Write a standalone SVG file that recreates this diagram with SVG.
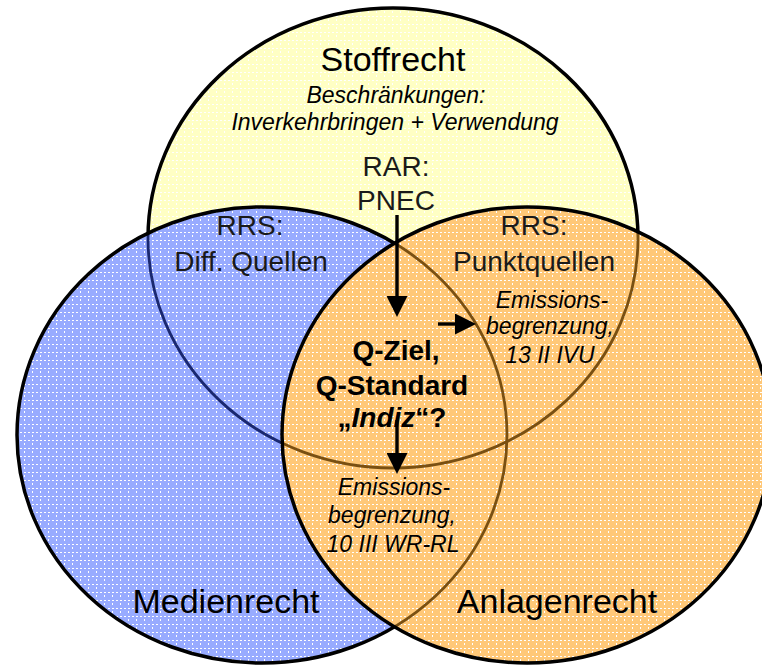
<svg xmlns="http://www.w3.org/2000/svg" width="762" height="666" viewBox="0 0 762 666">
<style>
.edge{fill:none;stroke:#000;stroke-width:3.5}
.ghostB{fill:none;stroke:#1A2870;stroke-width:2.8}
.ghostO{fill:none;stroke:#7A5012;stroke-width:2.8}
.t{font-family:"Liberation Sans",Arial,sans-serif;fill:#000;text-anchor:middle}
.big{font-size:34px}
.mid{font-size:28px;fill:#1a1a1a}
.it{font-size:23px;font-style:italic}
.bold{font-size:28px;font-weight:bold}
.arr{stroke:#000;stroke-width:3.4;fill:none}
</style>
<defs>
<pattern id="pY" width="8" height="8" patternUnits="userSpaceOnUse">
<rect width="8" height="8" fill="#FFFFC4"/>
<rect x="0" y="0" width="2" height="1" fill="#fff"/>
<rect x="4" y="0" width="2" height="1" fill="#fff"/>
<rect x="0" y="3" width="1" height="2" fill="#fff"/>
</pattern>
<pattern id="pB" width="8" height="8" patternUnits="userSpaceOnUse">
<rect width="8" height="8" fill="#98ABFF"/>
<rect x="0" y="0" width="2" height="1" fill="#fff"/>
<rect x="4" y="0" width="2" height="1" fill="#fff"/>
<rect x="0" y="3" width="1" height="2" fill="#fff"/>
</pattern>
<pattern id="pO" width="8" height="8" patternUnits="userSpaceOnUse">
<rect width="8" height="8" fill="#FFC878"/>
<rect x="0" y="0" width="2" height="1" fill="#fff"/>
<rect x="4" y="0" width="2" height="1" fill="#fff"/>
<rect x="0" y="3" width="1" height="2" fill="#fff"/>
</pattern>
<clipPath id="cL"><ellipse cx="262" cy="435" rx="245" ry="228"/></clipPath>
<clipPath id="cR"><ellipse cx="527" cy="435" rx="245" ry="228"/></clipPath>
<marker id="ah" viewBox="0 0 20 20" refX="0" refY="10" markerWidth="21" markerHeight="21" markerUnits="userSpaceOnUse" orient="auto">
<path d="M0,0 L20,10 L0,20 z" fill="#000"/>
</marker>
</defs>

<g id="stoffrecht">
<ellipse cx="393" cy="238" rx="245" ry="230" fill="url(#pY)"/>
<ellipse class="edge" cx="393" cy="238" rx="245" ry="230"/>
<text class="t big" x="393" y="71">Stoffrecht</text>
<text class="t it" x="396" y="103">Beschränkungen:</text>
<text class="t it" x="395" y="130">Inverkehrbringen + Verwendung</text>
<text class="t mid" x="396" y="176">RAR:</text>
<text class="t mid" x="396" y="210">PNEC</text>
</g>

<g id="medienrecht">
<ellipse cx="262" cy="435" rx="245" ry="228" fill="url(#pB)"/>
<ellipse class="ghostB" clip-path="url(#cL)" cx="393" cy="238" rx="245" ry="230"/>
<ellipse class="edge" cx="262" cy="435" rx="245" ry="228"/>
<text class="t big" x="226" y="613">Medienrecht</text>
</g>

<g id="anlagenrecht">
<ellipse cx="527" cy="435" rx="245" ry="228" fill="url(#pO)"/>
<ellipse class="ghostO" clip-path="url(#cR)" cx="393" cy="238" rx="245" ry="230"/>
<ellipse class="ghostO" clip-path="url(#cR)" cx="262" cy="435" rx="245" ry="228"/>
<ellipse class="edge" cx="527" cy="435" rx="245" ry="228"/>
<text class="t big" x="557" y="613">Anlagenrecht</text>
</g>

<g id="rrs-diffuse">
<text class="t mid" x="250" y="235">RRS:</text>
<text class="t mid" x="251" y="271">Diff. Quellen</text>
</g>

<g id="rrs-punkt">
<text class="t mid" x="534" y="235">RRS:</text>
<text class="t mid" x="534" y="271">Punktquellen</text>
</g>

<g id="emission-ivu">
<text class="t it" x="552" y="308">Emissions-</text>
<text class="t it" x="550" y="334">begrenzung,</text>
<text class="t it" x="550" y="363">13 II IVU</text>
</g>

<g id="q-ziel">
<text class="t bold" x="396" y="360">Q-Ziel,</text>
<text class="t bold" x="392" y="395">Q-Standard</text>
<text class="t bold" x="392" y="427">„<tspan font-style="italic">Indiz</tspan>“?</text>
</g>

<g id="emission-wrrl">
<text class="t it" x="394" y="495">Emissions-</text>
<text class="t it" x="392" y="523">begrenzung,</text>
<text class="t it" x="393" y="552">10 III WR-RL</text>
</g>

<g id="connectors">
<line class="arr" x1="397" y1="215" x2="397" y2="296" marker-end="url(#ah)"/>
<line class="arr" x1="438" y1="324" x2="455" y2="324" marker-end="url(#ah)"/>
<line class="arr" x1="397" y1="420" x2="397" y2="453" marker-end="url(#ah)"/>
</g>
</svg>
